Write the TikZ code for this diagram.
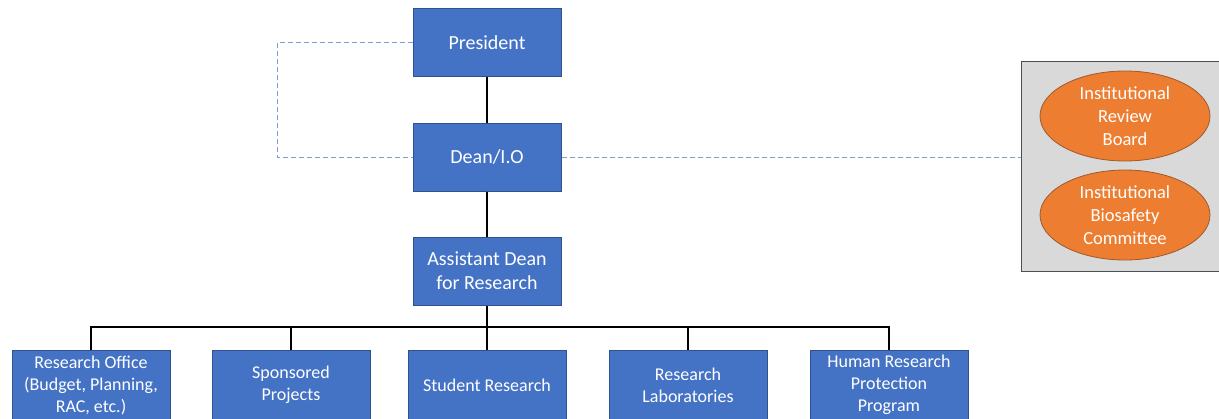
\documentclass[tikz,border=0pt]{standalone}
\usepackage{fontspec}
\setmainfont{Carlito}
\usetikzlibrary{shapes.geometric}
\definecolor{boxblue}{HTML}{4472C4}
\definecolor{boxedge}{HTML}{2F528F}
\definecolor{ovalfill}{HTML}{ED7D31}
\definecolor{ovaledge}{HTML}{9E5A2A}
\definecolor{panelfill}{HTML}{D9D9D9}
\definecolor{paneledge}{HTML}{4A4F57}
\definecolor{dashblue}{HTML}{7F9CCF}
\tikzset{
  unitbox/.style={draw=boxedge, line width=1pt, fill=boxblue, text=white,
    minimum width=148pt, minimum height=68pt, align=center, inner sep=2pt,
    font=\fontsize{20}{24}\selectfont},
  leafbox/.style={unitbox, minimum width=158pt, minimum height=70pt,
    font=\fontsize{18}{22}\selectfont},
  oval/.style={ellipse, draw=ovaledge, line width=0.8pt, fill=ovalfill, text=white,
    minimum width=170pt, minimum height=90pt, inner sep=0pt, align=center,
    font=\fontsize{18.5}{23}\selectfont},
  panel/.style={draw=paneledge, line width=1pt, fill=panelfill},
  solidlink/.style={draw=black, line width=1.2pt},
  dashlink/.style={draw=dashblue, line width=1pt, dash pattern=on 5pt off 3pt},
}
\begin{document}
\begin{tikzpicture}[x=1pt, y=-1pt]
\useasboundingbox (0,0) rectangle (1219,418);
\clip (0,0) rectangle (1219,418);

% committee panel on the right
\node[panel, minimum width=200pt, minimum height=210pt, anchor=north west, inner sep=0pt]
  (panel) at (1021,61) {};
\node[oval] (irb) at (1125,116) {Institutional\\Review\\Board};
\node[oval] (ibc) at (1125,215) {Institutional\\Biosafety\\Committee};

% leadership chain
\node[unitbox] (pres) at (487,42.5) {President};
\node[unitbox] (dean) at (487,157) {Dean/I.O};
\node[unitbox] (adr)  at (487,271) {Assistant Dean\\for Research};

% units under the assistant dean
\node[leafbox] (office)  at (91,385)  {Research Office\\(Budget, Planning,\\RAC, etc.)};
\node[leafbox] (spons)   at (291,385) {Sponsored\\Projects};
\node[leafbox] (student) at (487,385) {Student Research};
\node[leafbox] (labs)    at (688,385) {Research\\Laboratories};
\node[leafbox] (hrpp)    at (889,385) {Human Research\\Protection\\Program};

% reporting lines
\draw[solidlink] (pres.south) -- (dean.north);
\draw[solidlink] (dean.south) -- (adr.north);
\coordinate (bus) at (487,327);
\draw[solidlink] (adr.south) -- (student.north);
\draw[solidlink] (office.north) |- (bus) -| (hrpp.north);
\draw[solidlink] (spons.north) -- (spons.north |- bus);
\draw[solidlink] (labs.north) -- (labs.north |- bus);

% advisory (dashed) lines
\coordinate (loop) at (277,42.5);
\draw[dashlink] (pres.west) -- (loop) |- (dean.west);
\draw[dashlink] (dean.east) -- (dean.east -| panel.west);
\end{tikzpicture}
\end{document}
